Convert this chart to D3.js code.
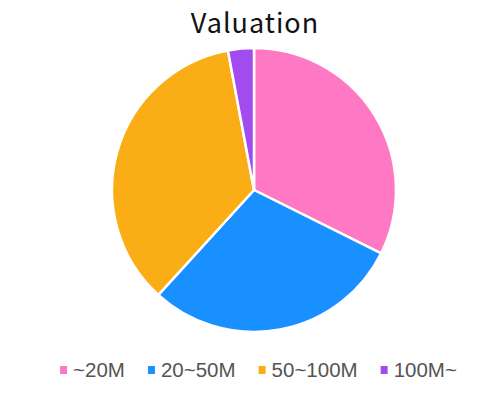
<!DOCTYPE html>
<html>
<head>
<meta charset="utf-8">
<title>Valuation</title>
<style>
  body { margin: 0; background: #fff; }
  svg { display: block; }
</style>
</head>
<body>
<svg width="504" height="394"></svg>
<script src="https://d3js.org/d3.v7.min.js"></script>
<script>
var categories = ["~20M", "20~50M", "50~100M", "100M~"];
var counts = [11, 10, 12, 1];
var colors = ["#ff78c4", "#1890ff", "#faad14", "#a24cf0"];
var title = "Valuation";

var svg = d3.select("svg"),
    width = +svg.attr("width"),
    cx = 254, cy = 190, radius = 142;

svg.append("text")
    .attr("x", 255)
    .attr("y", 33)
    .attr("text-anchor", "middle")
    .style("font-family", "'Noto Sans CJK JP', sans-serif")
    .style("font-size", "27px")
    .style("font-weight", 400)
    .style("letter-spacing", "1px")
    .attr("fill", "#111")
    .text(title);

var color = d3.scaleOrdinal().domain(categories).range(colors);

var pie = d3.pie().sort(null).value(function(d, i) { return counts[i]; });
var arc = d3.arc().innerRadius(0).outerRadius(radius);

var g = svg.append("g").attr("transform", "translate(" + cx + "," + cy + ")");
g.selectAll("path")
    .data(pie(categories))
    .enter().append("path")
    .attr("d", arc)
    .attr("fill", function(d) { return color(d.data); })
    .attr("stroke", "#fff")
    .attr("stroke-width", 2.5)
    .attr("stroke-linejoin", "round");

// legend, laid out from measured text widths
var legend = svg.append("g");
var items = legend.selectAll("g")
    .data(categories)
    .enter().append("g");

items.append("rect")
    .attr("width", 7)
    .attr("height", 8)
    .attr("y", -4)
    .attr("fill", function(d) { return color(d); });

items.append("text")
    .attr("x", 13)
    .attr("dy", "0.36em")
    .style("font-family", "'Liberation Sans', Arial, sans-serif")
    .style("font-size", "20.5px")
    .attr("fill", "#555")
    .text(function(d) { return d; });

var gap = 23, pos = 0, offsets = [];
items.each(function() {
  offsets.push(pos);
  pos += this.getBBox().width + gap;
});
var total = pos - gap;
var x0 = 258.5 - total / 2;
items.attr("transform", function(d, i) { return "translate(" + (x0 + offsets[i]) + ",370)"; });
</script>
</body>
</html>
